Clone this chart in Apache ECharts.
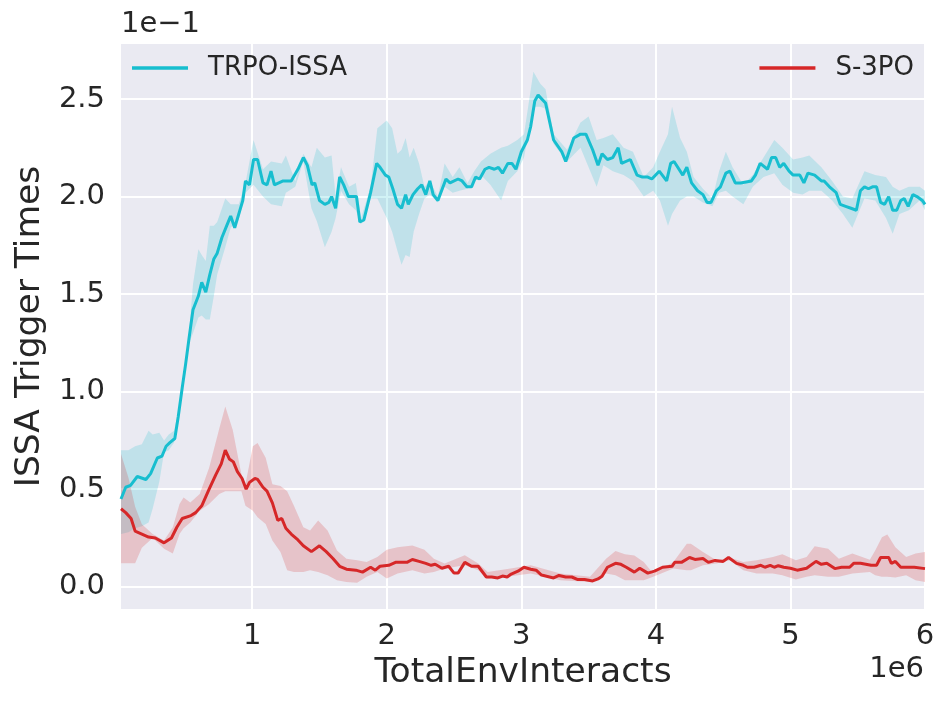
<!DOCTYPE html>
<html>
<head>
<meta charset="utf-8">
<script src="https://cdn.jsdelivr.net/npm/echarts@6/dist/echarts.min.js"></script>
<style>
  html, body { margin: 0; padding: 0; background: #fff; }
  #chart { width: 950px; height: 709px; }
</style>
</head>
<body>
<div id="chart"></div>
<script>
// x in units of 1e6 env interacts, y in units of 1e-1 trigger times
const xTicks = [1, 2, 3, 4, 5, 6]
const yTicks = [0.0, 0.5, 1.0, 1.5, 2.0, 2.5]

const trpoX = [0.025, 0.034, 0.06, 0.096, 0.146, 0.21, 0.245, 0.295, 0.33, 0.36, 0.39, 0.425, 0.45, 0.48, 0.505, 0.53, 0.56, 0.6, 0.625, 0.655,
  0.685, 0.715, 0.74, 0.775, 0.81, 0.84, 0.87, 0.9, 0.93, 0.95, 0.98, 1.01, 1.04, 1.08, 1.11, 1.14, 1.165, 1.23, 1.29, 1.34,
  1.38, 1.41, 1.445, 1.465, 1.5, 1.54, 1.57, 1.59, 1.62, 1.65, 1.68, 1.715, 1.75, 1.775, 1.8, 1.83, 1.88, 1.925, 1.95, 1.99,
  2.015, 2.045, 2.08, 2.11, 2.14, 2.16, 2.195, 2.23, 2.26, 2.29, 2.32, 2.345, 2.38, 2.44, 2.47, 2.53, 2.56, 2.595, 2.63, 2.66,
  2.69, 2.73, 2.76, 2.8, 2.83, 2.86, 2.9, 2.93, 2.96, 3.0, 3.045, 3.07, 3.1, 3.125, 3.18, 3.24, 3.3, 3.33, 3.39, 3.44,
  3.48, 3.53, 3.57, 3.6, 3.64, 3.68, 3.72, 3.745, 3.81, 3.86, 3.9, 3.94, 3.97, 4.025, 4.08, 4.11, 4.135, 4.2, 4.23, 4.265,
  4.31, 4.35, 4.38, 4.41, 4.45, 4.48, 4.52, 4.55, 4.59, 4.63, 4.71, 4.74, 4.775, 4.83, 4.86, 4.89, 4.92, 4.95, 4.99, 5.02,
  5.07, 5.1, 5.13, 5.18, 5.23, 5.25, 5.29, 5.34, 5.37, 5.41, 5.45, 5.49, 5.52, 5.55, 5.58, 5.61, 5.64, 5.67, 5.7, 5.73,
  5.76, 5.79, 5.82, 5.845, 5.875, 5.91, 5.94, 5.98, 6.0]
const trpoY = [0.45, 0.46, 0.51, 0.52, 0.565, 0.55, 0.58, 0.66, 0.67, 0.72, 0.74, 0.76, 0.87, 1.02, 1.14, 1.27, 1.42, 1.49, 1.56, 1.51,
  1.6, 1.68, 1.71, 1.79, 1.85, 1.9, 1.84, 1.91, 1.98, 2.08, 2.06, 2.19, 2.19, 2.07, 2.06, 2.13, 2.06, 2.08, 2.08, 2.14,
  2.2, 2.16, 2.06, 2.07, 1.98, 1.96, 1.97, 2.0, 1.94, 2.1, 2.06, 2.0, 2.0, 2.0, 1.87, 1.88, 2.02, 2.17, 2.15, 2.11,
  2.1, 2.04, 1.96, 1.94, 2.01, 1.96, 2.01, 2.04, 2.06, 2.01, 2.08, 2.01, 1.98, 2.09, 2.07, 2.09, 2.08, 2.05, 2.05, 2.1,
  2.09, 2.14, 2.15, 2.14, 2.15, 2.12, 2.17, 2.17, 2.14, 2.23, 2.29, 2.36, 2.49, 2.52, 2.48, 2.29, 2.23, 2.18, 2.3, 2.32,
  2.32, 2.24, 2.16, 2.22, 2.19, 2.2, 2.25, 2.17, 2.19, 2.11, 2.1, 2.1, 2.09, 2.13, 2.08, 2.17, 2.18, 2.11, 2.15, 2.07,
  2.03, 2.01, 1.97, 1.97, 2.03, 2.05, 2.12, 2.13, 2.07, 2.07, 2.08, 2.11, 2.17, 2.14, 2.2, 2.2, 2.15, 2.17, 2.13, 2.11,
  2.11, 2.07, 2.12, 2.11, 2.08, 2.08, 2.05, 2.02, 1.96, 1.95, 1.94, 1.93, 2.03, 2.05, 2.04, 2.05, 2.05, 1.97, 1.96, 2.0,
  1.93, 1.93, 1.98, 1.99, 1.95, 2.01, 2.0, 1.98, 1.96]

const trpoBandX = [0.025, 0.08, 0.13, 0.18, 0.23, 0.26, 0.31, 0.345, 0.38, 0.42, 0.45, 0.48, 0.505, 0.53, 0.56, 0.6, 0.625, 0.655, 0.685, 0.715,
  0.74, 0.8, 0.84, 0.9, 0.95, 1.01, 1.08, 1.14, 1.22, 1.25, 1.32, 1.38, 1.44, 1.48, 1.54, 1.59, 1.62, 1.66, 1.72, 1.77,
  1.81, 1.88, 1.93, 2.0, 2.04, 2.08, 2.11, 2.14, 2.17, 2.2, 2.24, 2.28, 2.32, 2.38, 2.43, 2.49, 2.54, 2.6, 2.65, 2.7,
  2.77, 2.85, 2.9, 2.97, 3.02, 3.09, 3.14, 3.18, 3.24, 3.34, 3.44, 3.5, 3.56, 3.61, 3.68, 3.76, 3.83, 3.91, 3.98, 4.03,
  4.09, 4.12, 4.18, 4.23, 4.28, 4.35, 4.42, 4.47, 4.52, 4.57, 4.65, 4.72, 4.8, 4.88, 4.94, 5.02, 5.09, 5.14, 5.23, 5.31,
  5.39, 5.46, 5.55, 5.63, 5.71, 5.76, 5.81, 5.88, 5.96, 6.0]
const trpoLo = [0.27, 0.28, 0.3, 0.31, 0.33, 0.4, 0.54, 0.69, 0.7, 0.74, 0.85, 1.0, 1.12, 1.25, 1.3, 1.38, 1.39, 1.37, 1.37, 1.49,
  1.6, 1.74, 1.84, 1.88, 2.02, 2.06, 2.0, 1.96, 1.95, 2.02, 2.05, 2.18, 1.94, 1.875, 1.74, 1.82, 1.89, 2.03, 1.96, 1.93,
  1.86, 1.99, 1.99, 1.89, 1.82, 1.72, 1.65, 1.7, 1.69, 1.82, 1.91, 1.99, 2.01, 1.97, 2.05, 2.02, 2.03, 2.04, 2.08, 2.11,
  2.06, 1.98, 2.08, 2.13, 2.2, 2.46, 2.46, 2.45, 2.27, 2.18, 2.25, 2.15, 2.05, 2.16, 2.13, 2.11, 2.08, 2.0, 2.03, 1.98,
  1.85, 1.91, 1.98, 2.0, 2.0, 1.97, 1.95, 2.02, 2.03, 2.0, 1.96, 2.05, 2.1, 2.12, 2.06, 2.02, 2.01, 2.03, 2.03, 1.98,
  1.91, 1.84, 1.99, 1.98, 1.89, 1.81, 1.91, 1.93, 1.98, 1.93]
const trpoHi = [0.7, 0.7, 0.72, 0.73, 0.8, 0.78, 0.79, 0.75, 0.78, 0.8, 0.89, 1.04, 1.16, 1.29, 1.55, 1.73, 1.7, 1.67, 1.85, 1.85,
  1.87, 1.99, 1.96, 1.96, 2.07, 2.29, 2.14, 2.18, 2.17, 2.21, 2.08, 2.22, 2.15, 2.25, 2.2, 2.21, 2.0, 2.15, 2.05, 2.07,
  1.89, 2.05, 2.35, 2.39, 2.35, 2.22, 2.24, 2.3, 2.2, 2.25, 2.17, 2.05, 2.08, 2.0, 2.17, 2.1, 2.15, 2.07, 2.13, 2.18,
  2.22, 2.25, 2.26, 2.29, 2.32, 2.64, 2.58, 2.55, 2.32, 2.24, 2.38, 2.41, 2.29, 2.3, 2.32, 2.25, 2.23, 2.1, 2.15, 2.23,
  2.32, 2.46, 2.3, 2.23, 2.1, 2.04, 1.99, 2.13, 2.23, 2.15, 2.06, 2.11, 2.2, 2.29, 2.25, 2.19, 2.2, 2.21, 2.15, 2.08,
  2.0, 1.99, 2.13, 2.11, 2.1, 2.05, 2.03, 2.05, 2.05, 2.03]

const s3poX = [0.025, 0.06, 0.1, 0.13, 0.18, 0.23, 0.28, 0.345, 0.4, 0.44, 0.48, 0.545, 0.58, 0.625, 0.68, 0.73, 0.77, 0.8, 0.83, 0.86,
  0.89, 0.925, 0.955, 0.98, 1.02, 1.04, 1.08, 1.11, 1.15, 1.19, 1.22, 1.25, 1.29, 1.34, 1.38, 1.44, 1.5, 1.55, 1.6, 1.65,
  1.7, 1.77, 1.82, 1.88, 1.915, 1.95, 2.015, 2.065, 2.15, 2.19, 2.24, 2.29, 2.33, 2.36, 2.41, 2.46, 2.5, 2.53, 2.58, 2.63,
  2.68, 2.74, 2.78, 2.825, 2.86, 2.895, 2.925, 2.975, 3.02, 3.07, 3.11, 3.15, 3.24, 3.28, 3.33, 3.375, 3.42, 3.47, 3.53, 3.57,
  3.6, 3.64, 3.7, 3.74, 3.78, 3.84, 3.88, 3.94, 3.99, 4.05, 4.12, 4.14, 4.19, 4.25, 4.29, 4.35, 4.39, 4.44, 4.5, 4.54,
  4.6, 4.65, 4.68, 4.73, 4.78, 4.81, 4.85, 4.88, 4.91, 4.95, 5.0, 5.05, 5.12, 5.19, 5.23, 5.27, 5.33, 5.38, 5.44, 5.47,
  5.52, 5.6, 5.64, 5.67, 5.73, 5.75, 5.78, 5.82, 5.87, 5.92, 6.0]
const s3poY = [0.4, 0.38, 0.35, 0.285, 0.27, 0.255, 0.25, 0.225, 0.25, 0.305, 0.35, 0.365, 0.38, 0.415, 0.5, 0.575, 0.63, 0.7, 0.655, 0.64,
  0.59, 0.555, 0.5, 0.535, 0.555, 0.55, 0.51, 0.49, 0.43, 0.34, 0.35, 0.3, 0.27, 0.24, 0.21, 0.18, 0.21, 0.18, 0.145, 0.105,
  0.09, 0.085, 0.075, 0.1, 0.085, 0.105, 0.11, 0.125, 0.125, 0.14, 0.13, 0.12, 0.11, 0.115, 0.095, 0.105, 0.07, 0.07, 0.125, 0.105,
  0.105, 0.05, 0.05, 0.045, 0.055, 0.05, 0.065, 0.08, 0.1, 0.09, 0.085, 0.06, 0.045, 0.058, 0.05, 0.05, 0.037, 0.037, 0.03, 0.04,
  0.054, 0.1, 0.12, 0.115, 0.1, 0.075, 0.095, 0.07, 0.08, 0.1, 0.105, 0.125, 0.125, 0.15, 0.14, 0.145, 0.125, 0.135, 0.13, 0.15,
  0.12, 0.11, 0.1, 0.1, 0.11, 0.1, 0.11, 0.1, 0.108, 0.1, 0.095, 0.085, 0.095, 0.13, 0.115, 0.12, 0.093, 0.1, 0.1, 0.12,
  0.12, 0.11, 0.11, 0.15, 0.15, 0.12, 0.13, 0.1, 0.1, 0.1, 0.093]

const s3poBandX = [0.025, 0.08, 0.13, 0.18, 0.26, 0.345, 0.41, 0.46, 0.49, 0.54, 0.61, 0.68, 0.755, 0.8, 0.855, 0.92, 0.95, 1.005, 1.04, 1.1,
  1.15, 1.21, 1.26, 1.31, 1.38, 1.43, 1.49, 1.56, 1.63, 1.7, 1.78, 1.85, 1.93, 2.0, 2.08, 2.19, 2.28, 2.35, 2.43, 2.58,
  2.68, 2.75, 2.92, 3.07, 3.29, 3.51, 3.63, 3.7, 3.77, 3.84, 3.91, 3.98, 4.13, 4.23, 4.26, 4.35, 4.45, 4.55, 4.65, 4.75,
  4.87, 4.94, 5.04, 5.12, 5.18, 5.28, 5.36, 5.46, 5.59, 5.63, 5.68, 5.72, 5.78, 5.86, 5.93, 6.0]
const s3poLo = [0.12, 0.12, 0.12, 0.2, 0.25, 0.195, 0.17, 0.27, 0.3, 0.33, 0.39, 0.424, 0.475, 0.49, 0.49, 0.49, 0.415, 0.39, 0.356, 0.322,
  0.237, 0.178, 0.085, 0.076, 0.076, 0.085, 0.076, 0.059, 0.034, 0.025, 0.02, 0.051, 0.076, 0.042, 0.068, 0.085, 0.068, 0.076, 0.093, 0.11,
  0.085, 0.042, 0.054, 0.068, 0.034, 0.025, 0.068, 0.059, 0.034, 0.034, 0.034, 0.051, 0.093, 0.085, 0.085, 0.11, 0.119, 0.136, 0.085, 0.068,
  0.068, 0.059, 0.037, 0.051, 0.059, 0.051, 0.051, 0.068, 0.076, 0.059, 0.051, 0.051, 0.047, 0.059, 0.034, 0.025]
const s3poHi = [0.68, 0.56, 0.41, 0.32, 0.27, 0.237, 0.305, 0.424, 0.458, 0.432, 0.475, 0.61, 0.81, 0.924, 0.805, 0.576, 0.525, 0.72, 0.737, 0.661,
  0.525, 0.517, 0.49, 0.415, 0.305, 0.288, 0.339, 0.288, 0.186, 0.144, 0.136, 0.127, 0.153, 0.19, 0.203, 0.212, 0.19, 0.144, 0.119, 0.161,
  0.119, 0.076, 0.093, 0.11, 0.068, 0.051, 0.144, 0.183, 0.166, 0.16, 0.127, 0.068, 0.127, 0.22, 0.22, 0.178, 0.136, 0.149, 0.127, 0.136,
  0.153, 0.166, 0.136, 0.153, 0.207, 0.195, 0.144, 0.17, 0.139, 0.186, 0.254, 0.268, 0.203, 0.153, 0.17, 0.178]

const TEAL = '#17becf'
const RED = '#d62728'
const TEXT = '#262626'
const FONT = 'DejaVu Sans'

const zip = (xs, ys) => xs.map((x, i) => [x, ys[i]])

// shaded band: upper edge forward, lower edge back, placed with the axes' own coord()
function band(name, xs, lo, hi, color) {
  return {
    name: name,
    type: 'custom',
    silent: true,
    z: 1,
    data: [[xs[0], lo[0]]],
    renderItem: function (params, api) {
      const pts = []
      for (let i = 0; i < xs.length; i++) pts.push(api.coord([xs[i], hi[i]]))
      for (let i = xs.length - 1; i >= 0; i--) pts.push(api.coord([xs[i], lo[i]]))
      return {
        type: 'polygon',
        shape: { points: pts },
        style: { fill: color, opacity: 0.2 }
      }
    }
  }
}

function line(name, xs, ys, color) {
  return {
    name: name,
    type: 'line',
    z: 3,
    data: zip(xs, ys),
    showSymbol: false,
    symbol: 'none',
    lineStyle: { color: color, width: 3 },
    itemStyle: { color: color },
    animation: false
  }
}

const chart = echarts.init(document.getElementById('chart'), null, { renderer: 'canvas' })

const option = {
  animation: false,
  backgroundColor: '#ffffff',
  textStyle: { fontFamily: FONT },
  grid: { left: 121, right: 25, top: 44, bottom: 100, show: true, backgroundColor: '#eaeaf2', borderWidth: 0 },
  legend: [
    {
      data: ['TRPO-ISSA'], left: 127, top: 50, icon: 'rect', itemWidth: 56, itemHeight: 3.5,
      textStyle: { fontFamily: FONT, fontSize: 26, color: TEXT, padding: [0, 0, 0, 15] }
    },
    {
      data: ['S-3PO'], right: 31, top: 50, icon: 'rect', itemWidth: 56, itemHeight: 3.5,
      textStyle: { fontFamily: FONT, fontSize: 26, color: TEXT, padding: [0, 0, 0, 15] }
    }
  ],
  xAxis: {
    type: 'value', min: 0.025, max: 6,
    name: 'TotalEnvInteracts', nameLocation: 'middle', nameGap: 46,
    nameTextStyle: { fontFamily: FONT, fontSize: 34.5, color: TEXT },
    axisLine: { show: false },
    axisTick: { show: false, customValues: xTicks },
    axisLabel: { customValues: xTicks, fontFamily: FONT, fontSize: 29, color: TEXT, margin: 13, formatter: v => String(v) },
    splitLine: { show: true, lineStyle: { color: '#ffffff', width: 2 } }
  },
  yAxis: {
    type: 'value', min: -0.114, max: 2.782,
    name: 'ISSA Trigger Times', nameLocation: 'middle', nameGap: 72,
    nameTextStyle: { fontFamily: FONT, fontSize: 34.5, color: TEXT },
    axisLine: { show: false },
    axisTick: { show: false, customValues: yTicks },
    axisLabel: { customValues: yTicks, fontFamily: FONT, fontSize: 29, color: TEXT, margin: 16, formatter: v => v.toFixed(1) },
    splitLine: { show: true, lineStyle: { color: '#ffffff', width: 2 } }
  },
  graphic: [
    { type: 'text', left: 121, top: 10, style: { text: '1e\u22121', fontFamily: FONT, fontSize: 29, fill: TEXT } },
    { type: 'text', right: 26, top: 655, style: { text: '1e6', fontFamily: FONT, fontSize: 29, fill: TEXT } }
  ],
  series: [
    band('trpo-band', trpoBandX, trpoLo, trpoHi, TEAL),
    band('s3po-band', s3poBandX, s3poLo, s3poHi, RED),
    line('TRPO-ISSA', trpoX, trpoY, TEAL),
    line('S-3PO', s3poX, s3poY, RED)
  ]
}

chart.setOption(option)
</script>
</body>
</html>
